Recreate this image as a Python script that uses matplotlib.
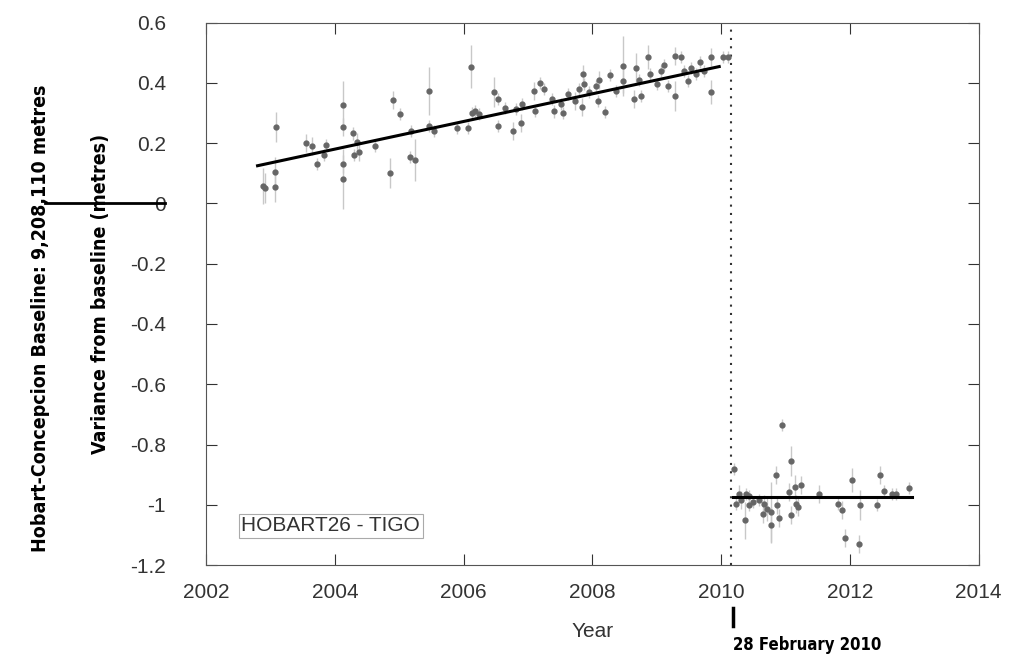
import matplotlib.pyplot as plt

plt.rcParams["font.family"] = ["Liberation Sans", "DejaVu Sans"]

# before the earthquake: (year, variance m, error m)
pre = [
    (2002.89, 0.058, 0.06), (2002.92, 0.050, 0.05), (2003.08, 0.254, 0.05),
    (2003.07, 0.105, 0.05), (2003.07, 0.055, 0.05), (2003.55, 0.200, 0.03),
    (2003.64, 0.190, 0.03), (2003.72, 0.130, 0.02), (2003.83, 0.160, 0.02),
    (2003.86, 0.195, 0.02), (2004.12, 0.327, 0.08), (2004.12, 0.254, 0.03),
    (2004.13, 0.130, 0.03), (2004.12, 0.080, 0.10), (2004.29, 0.232, 0.02),
    (2004.30, 0.160, 0.02), (2004.34, 0.205, 0.03), (2004.37, 0.170, 0.03),
    (2004.62, 0.190, 0.02), (2004.85, 0.100, 0.05), (2004.91, 0.343, 0.03),
    (2005.02, 0.298, 0.02), (2005.16, 0.155, 0.02), (2005.25, 0.145, 0.07),
    (2005.19, 0.240, 0.02), (2005.47, 0.373, 0.08), (2005.46, 0.257, 0.02),
    (2005.54, 0.240, 0.02), (2005.89, 0.250, 0.02), (2006.07, 0.250, 0.02),
    (2006.11, 0.454, 0.07), (2006.13, 0.300, 0.02), (2006.18, 0.308, 0.02),
    (2006.24, 0.298, 0.02), (2006.48, 0.371, 0.05), (2006.54, 0.346, 0.02),
    (2006.53, 0.257, 0.02), (2006.65, 0.317, 0.02), (2006.76, 0.240, 0.03),
    (2006.89, 0.268, 0.03), (2006.82, 0.314, 0.02), (2006.90, 0.330, 0.02),
    (2007.10, 0.373, 0.03), (2007.18, 0.398, 0.02), (2007.25, 0.380, 0.02),
    (2007.11, 0.308, 0.02), (2007.37, 0.346, 0.02), (2007.40, 0.305, 0.02),
    (2007.51, 0.330, 0.02), (2007.54, 0.300, 0.02), (2007.62, 0.363, 0.02),
    (2007.73, 0.340, 0.03), (2007.79, 0.380, 0.02), (2007.84, 0.320, 0.03),
    (2007.86, 0.428, 0.03), (2007.87, 0.396, 0.02), (2007.95, 0.370, 0.02),
    (2008.06, 0.390, 0.02), (2008.11, 0.410, 0.03), (2008.09, 0.340, 0.02),
    (2008.20, 0.302, 0.02), (2008.27, 0.427, 0.02), (2008.37, 0.373, 0.02),
    (2008.47, 0.456, 0.10), (2008.47, 0.407, 0.04), (2008.65, 0.346, 0.03),
    (2008.67, 0.450, 0.05), (2008.76, 0.357, 0.02), (2008.73, 0.410, 0.02),
    (2008.87, 0.486, 0.04), (2008.90, 0.430, 0.02), (2009.01, 0.396, 0.02),
    (2009.06, 0.440, 0.02), (2009.12, 0.460, 0.02), (2009.17, 0.390, 0.02),
    (2009.28, 0.490, 0.03), (2009.29, 0.357, 0.05), (2009.37, 0.485, 0.02),
    (2009.42, 0.440, 0.02), (2009.48, 0.407, 0.02), (2009.53, 0.450, 0.02),
    (2009.61, 0.430, 0.02), (2009.67, 0.470, 0.02), (2009.73, 0.440, 0.02),
    (2009.84, 0.485, 0.03), (2009.85, 0.370, 0.04), (2010.03, 0.487, 0.02),
    (2010.11, 0.487, 0.02),
]

# after the earthquake
post = [
    (2010.94, -0.736, 0.02), (2011.08, -0.856, 0.05), (2010.20, -0.880, 0.02),
    (2010.85, -0.902, 0.03), (2012.04, -0.919, 0.04), (2012.47, -0.902, 0.03),
    (2012.92, -0.944, 0.02), (2012.53, -0.954, 0.02), (2012.66, -0.963, 0.02),
    (2012.71, -0.963, 0.02), (2011.52, -0.963, 0.03), (2011.24, -0.934, 0.03),
    (2011.15, -0.942, 0.04), (2011.05, -0.958, 0.03), (2010.28, -0.963, 0.03),
    (2010.38, -0.963, 0.02), (2010.43, -0.970, 0.02), (2010.23, -0.996, 0.02),
    (2010.31, -0.985, 0.03), (2010.44, -1.001, 0.02), (2010.49, -0.990, 0.02),
    (2010.59, -0.985, 0.02), (2010.67, -0.996, 0.03), (2010.65, -1.029, 0.03),
    (2010.72, -1.013, 0.04), (2010.77, -1.024, 0.10), (2010.86, -1.001, 0.03),
    (2010.77, -1.068, 0.06), (2010.90, -1.045, 0.03), (2010.37, -1.052, 0.06),
    (2011.08, -1.035, 0.03), (2011.16, -0.996, 0.03), (2011.19, -1.007, 0.03),
    (2011.82, -0.996, 0.02), (2011.88, -1.018, 0.03), (2011.92, -1.109, 0.03),
    (2012.14, -1.129, 0.03), (2012.16, -1.001, 0.05), (2012.42, -1.001, 0.02),
]

trend_pre_x = [2002.80, 2009.97]
trend_pre_y = [0.125, 0.454]
trend_post_x = [2010.18, 2012.97]
trend_post_y = [-0.974, -0.974]
quake_year = 2010.16

fig = plt.figure(figsize=(10.1, 6.64), dpi=100)
ax = fig.add_axes([0.204, 0.149, 0.765, 0.817])

for pts in (pre, post):
    xs = [p[0] for p in pts]
    ys = [p[1] for p in pts]
    es = [p[2] for p in pts]
    ax.errorbar(xs, ys, yerr=es, fmt="o", ms=3.5, color="#666666",
                ecolor="#c8c8c8", elinewidth=1, capsize=0, zorder=3)

ax.plot(trend_pre_x, trend_pre_y, color="black", lw=2.2, zorder=4)
ax.plot(trend_post_x, trend_post_y, color="black", lw=2.2, zorder=4)
ax.axvline(quake_year, color="#333333", ls=(0, (1, 3)), lw=1.5)

ax.set_xlim(2002, 2014)
ax.set_ylim(-1.2, 0.6)
ax.set_xticks(range(2002, 2015, 2))
ax.set_yticks([-1.2, -1, -0.8, -0.6, -0.4, -0.2, 0, 0.2, 0.4, 0.6])
ax.set_yticklabels(["-1.2", "-1", "-0.8", "-0.6", "-0.4", "-0.2", "0", "0.2", "0.4", "0.6"])
ax.tick_params(direction="in", length=8, labelsize=15, top=True, right=True,
               colors="#333333")
ax.tick_params(axis="x", pad=13)
ax.tick_params(axis="y", pad=29)
for s in ax.spines.values():
    s.set_color("#555555")

ax.set_xlabel("Year", fontsize=15, color="#333333", labelpad=14)
ax.set_ylabel("Variance from baseline (metres)", fontsize=14, fontweight="bold",
              family="DejaVu Sans", fontstretch="condensed")
ax.yaxis.set_label_coords(-0.124, 0.5)

ax.text(2002.55, -1.07, "HOBART26 - TIGO", fontsize=15, color="#333333",
        va="center", ha="left",
        bbox=dict(facecolor="white", edgecolor="#aaaaaa", lw=0.8, pad=2))

fig.text(0.04, 0.52, "Hobart-Concepcion Baseline: 9,208,110 metres", rotation=90,
         ha="center", va="center", fontsize=14, fontweight="bold",
         family="DejaVu Sans", fontstretch="condensed")
fig.add_artist(plt.Line2D([0.045, 0.163], [1 - 203 / 664, 1 - 203 / 664],
                          color="black", lw=2, transform=fig.transFigure))
fig.add_artist(plt.Line2D([733 / 1010, 733 / 1010], [1 - 608 / 664, 1 - 626 / 664],
                          color="black", lw=2.5, transform=fig.transFigure))
fig.text(733 / 1010, 1 - 645 / 664, "28 February 2010", ha="left", va="center",
         fontsize=12, fontweight="bold", family="DejaVu Sans", fontstretch="condensed")

plt.savefig("out.png")
